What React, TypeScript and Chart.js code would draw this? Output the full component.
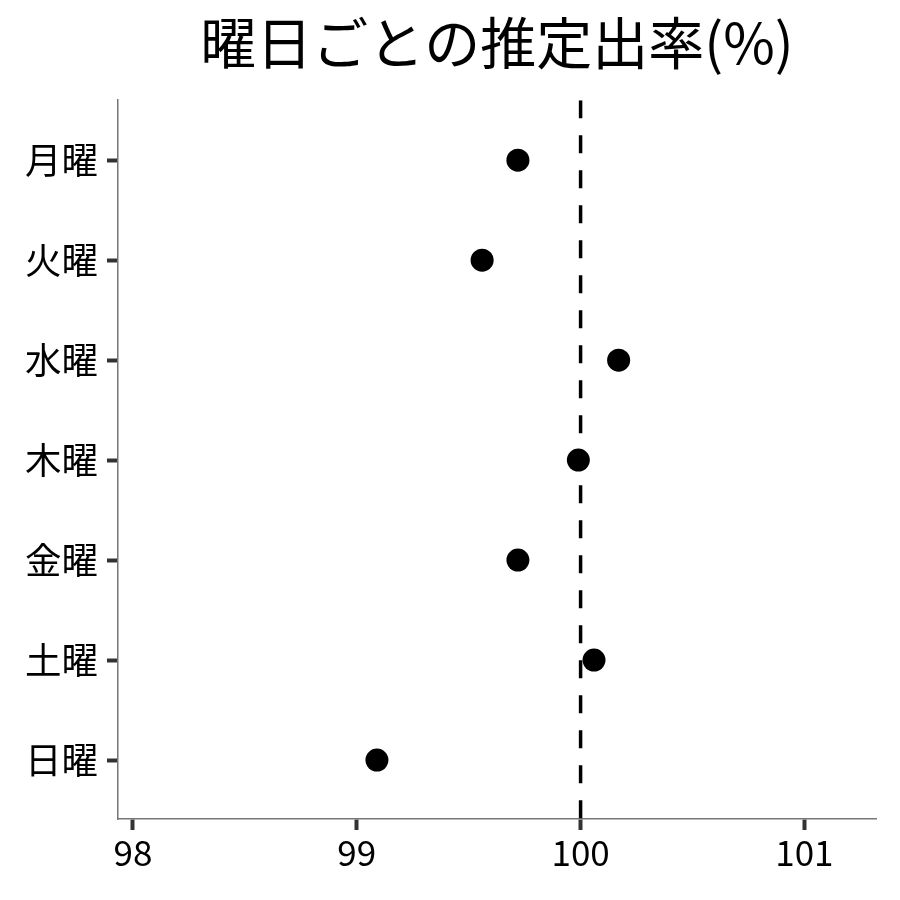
import { Chart, registerables } from 'chart.js';
import React, { useEffect, useRef } from 'react';

Chart.register(...registerables);

const days = ['月曜', '火曜', '水曜', '木曜', '金曜', '土曜', '日曜'];
const rates = [99.72, 99.56, 100.17, 99.99, 99.72, 100.06, 99.09];
const xTicks = [98, 99, 100, 101];
const refValue = 100;

const FONT = '"Noto Sans CJK JP", "Noto Sans", sans-serif';

const App: React.FC = () => {
    const canvasRef = useRef<HTMLCanvasElement>(null);

    useEffect(() => {
        if (!canvasRef.current) return;
        const ctx = canvasRef.current.getContext('2d');
        if (!ctx) return;

        const yMin = -0.6;
        const yMax = days.length - 1 + 0.59;

        const chart = new Chart(ctx, {
            type: 'scatter',
            data: {
                datasets: [
                    {
                        label: 'rate',
                        data: days.map((_, i) => ({ x: rates[i], y: i })),
                        pointRadius: 11.5,
                        pointHoverRadius: 11.5,
                        backgroundColor: '#000',
                        borderWidth: 0,
                        order: 1,
                    },
                    {
                        label: 'ref',
                        data: [
                            { x: refValue, y: yMin },
                            { x: refValue, y: yMax },
                        ],
                        showLine: true,
                        borderColor: '#000',
                        borderWidth: 3.5,
                        borderDash: [18, 17],
                        pointRadius: 0,
                        order: 2,
                    },
                ],
            },
            options: {
                animation: false,
                responsive: true,
                maintainAspectRatio: false,
                devicePixelRatio: 1,
                layout: { padding: { left: 0, right: 24, top: 0, bottom: 0 } },
                plugins: {
                    legend: { display: false },
                    tooltip: { enabled: false },
                    title: {
                        display: true,
                        fullSize: false,
                        text: '曜日ごとの推定出率(%)',
                        color: '#000',
                        font: { family: FONT, size: 56, weight: 'normal', lineHeight: 1.2 },
                        padding: { top: 9, bottom: 24 },
                    },
                },
                scales: {
                    x: {
                        type: 'linear',
                        min: 97.933,
                        max: 101.32,
                        afterBuildTicks: (scale: any) => {
                            scale.ticks = xTicks.map((v) => ({ value: v }));
                        },
                        afterFit: (scale: any) => {
                            scale.height = 81;
                        },
                        grid: {
                            drawOnChartArea: false,
                            drawTicks: true,
                            tickLength: 11,
                            tickColor: '#333',
                            tickWidth: 4,
                        },
                        border: { color: '#777', width: 1.5 },
                        ticks: {
                            color: '#000',
                            padding: 2,
                            font: { family: FONT, size: 35 },
                        },
                    },
                    y: {
                        type: 'linear',
                        reverse: true,
                        min: yMin,
                        max: yMax,
                        afterBuildTicks: (scale: any) => {
                            scale.ticks = days.map((_, i) => ({ value: i }));
                        },
                        afterFit: (scale: any) => {
                            scale.width = 118;
                        },
                        grid: {
                            drawOnChartArea: false,
                            drawTicks: true,
                            tickLength: 11,
                            tickColor: '#333',
                            tickWidth: 4,
                        },
                        border: { color: '#777', width: 1.5 },
                        ticks: {
                            color: '#000',
                            padding: 9,
                            font: { family: FONT, size: 36.5 },
                            callback: (value: any) => days[value as number] ?? '',
                        },
                    },
                },
            },
        });

        return () => {
            chart.destroy();
        };
    }, []);

    return (
        <div style={{ position: 'fixed', left: 0, top: 0, width: 900, height: 900, background: '#fff' }}>
            <canvas ref={canvasRef} />
        </div>
    );
};

export default App;
